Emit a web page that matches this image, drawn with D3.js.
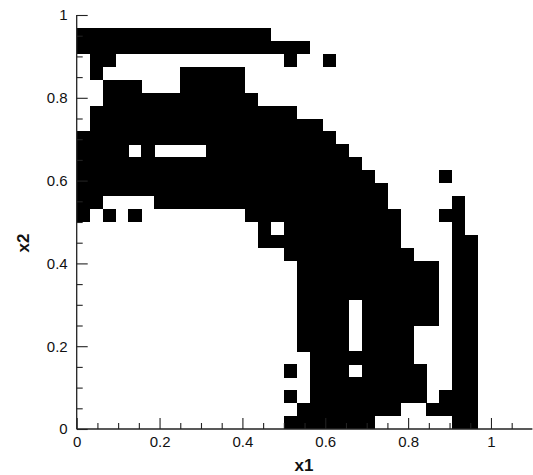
<!DOCTYPE html>
<html>
<head>
<meta charset="utf-8">
<script src="https://cdn.jsdelivr.net/npm/d3@7"></script>
<style>
  html, body { margin: 0; padding: 0; background: #fff; }
  svg { display: block; }
  .tick text { font-family: "Liberation Sans", Arial, sans-serif; font-size: 15px; fill: #111; }
  .axis-title { font-family: "Liberation Sans", Arial, sans-serif; font-weight: bold; font-size: 17px; fill: #111; }
</style>
</head>
<body>
<svg id="chart" width="533" height="475"></svg>
<script>
// Grid resolution (cells per unit along each axis)
const gridN = 32;

// Cell states, one string per x2 row from the top row (x2 in [31/32, 1]) down to
// the bottom row (x2 in [0, 1/32]); each character is one x1 column, '1' = filled.
const cellRows = [
  "00000000000000000000000000000000",
  "11111111111111100000000000000000",
  "11111111111111111100000000000000",
  "01100000000000001001000000000000",
  "01000000111110000000000000000000",
  "00111000111110000000000000000000",
  "00111111111111000000000000000000",
  "01111111111111111000000000000000",
  "01111111111111111110000000000000",
  "11111111111111111111000000000000",
  "11110100001111111111100000000000",
  "11111111111111111111110000000000",
  "11111111111111111111111000001000",
  "11111111111111111111111100000000",
  "11000011111111111111111100000100",
  "10101000000001111111111110001100",
  "00000000000000101111111110000100",
  "00000000000000111111111110000110",
  "00000000000000001111111111000110",
  "00000000000000000111111111110110",
  "00000000000000000111111111110110",
  "00000000000000000111111111110110",
  "00000000000000000111101111110110",
  "00000000000000000111101111110110",
  "00000000000000000111101111000110",
  "00000000000000000111101111000110",
  "00000000000000000011111111000110",
  "00000000000000001011101111100110",
  "00000000000000000011111111100110",
  "00000000000000001011111111101110",
  "00000000000000000111111110011110",
  "00000000000000001111111000000110"
];

// Axis tick values and labels
const xMajorTicks = [0, 0.2, 0.4, 0.6, 0.8, 1];
const xMajorLabels = ["0", "0.2", "0.4", "0.6", "0.8", "1"];
const xMinorTicks = [0.05, 0.1, 0.15, 0.25, 0.3, 0.35, 0.45, 0.5, 0.55, 0.65, 0.7, 0.75, 0.85, 0.9, 0.95, 1.05];
const yMajorTicks = [0, 0.2, 0.4, 0.6, 0.8, 1];
const yMajorLabels = ["0", "0.2", "0.4", "0.6", "0.8", "1"];
const yMinorTicks = [0.05, 0.1, 0.15, 0.25, 0.3, 0.35, 0.45, 0.5, 0.55, 0.65, 0.7, 0.75, 0.85, 0.9, 0.95];

const xDomain = [0, 1.1];
const yDomain = [0, 1];

const svg = d3.select("#chart");
const x = d3.scaleLinear().domain(xDomain).range([76.7, 532.4]);
const y = d3.scaleLinear().domain(yDomain).range([429, 15]);

// Flatten rows into filled cells with data-space bounds
const cells = [];
cellRows.forEach((row, r) => {
  const j = gridN - 1 - r;
  for (let c = 0; c < row.length; c++) {
    if (row[c] === "1") {
      cells.push({ x0: c / gridN, x1: (c + 1) / gridN, y0: j / gridN, y1: (j + 1) / gridN });
    }
  }
});

svg.append("g")
  .attr("shape-rendering", "crispEdges")
  .selectAll("rect")
  .data(cells)
  .join("rect")
  .attr("x", d => x(d.x0))
  .attr("y", d => y(d.y1))
  .attr("width", d => x(d.x1) - x(d.x0) + 0.3)
  .attr("height", d => y(d.y0) - y(d.y1) + 0.3)
  .attr("fill", "#000");

function styleAxis(g) {
  g.select(".domain").attr("stroke", "#222").attr("stroke-width", 1.3);
  g.selectAll(".tick line").attr("stroke", "#222").attr("stroke-width", 1.1);
}

// Bottom axis: minor ticks, then labelled major ticks (ticks point inward)
const gx = svg.append("g").attr("transform", `translate(0,${y(0)})`);
gx.append("g")
  .call(d3.axisBottom(x).tickValues(xMinorTicks).tickSize(-6).tickFormat(""))
  .call(g => g.select(".domain").remove())
  .call(styleAxis);
gx.append("g")
  .call(d3.axisBottom(x).tickValues(xMajorTicks).tickSize(-11).tickPadding(7)
    .tickFormat((d, i) => xMajorLabels[i]))
  .call(styleAxis)
  .call(g => g.select(".domain").attr("d", `M${x(xDomain[0])},0H${x(xDomain[1])}`))
  .call(g => g.selectAll(".tick text").attr("font-family", null).attr("font-size", null).attr("fill", null));

// Left axis
const gy = svg.append("g").attr("transform", `translate(${x(0)},0)`);
gy.append("g")
  .call(d3.axisLeft(y).tickValues(yMinorTicks).tickSize(-6).tickFormat(""))
  .call(g => g.select(".domain").remove())
  .call(styleAxis);
gy.append("g")
  .call(d3.axisLeft(y).tickValues(yMajorTicks).tickSize(-11).tickPadding(9)
    .tickFormat((d, i) => yMajorLabels[i]))
  .call(styleAxis)
  .call(g => g.select(".domain").attr("d", `M0,${y(yDomain[0])}V${y(yDomain[1])}`))
  .call(g => g.selectAll(".tick text").attr("font-family", null).attr("font-size", null).attr("fill", null));

// Axis titles
svg.append("text")
  .attr("class", "axis-title")
  .attr("x", 304)
  .attr("y", 471)
  .attr("text-anchor", "middle")
  .text("x1");

svg.append("text")
  .attr("class", "axis-title")
  .attr("transform", "translate(29,243) rotate(-90)")
  .attr("text-anchor", "middle")
  .text("x2");
</script>
</body>
</html>
